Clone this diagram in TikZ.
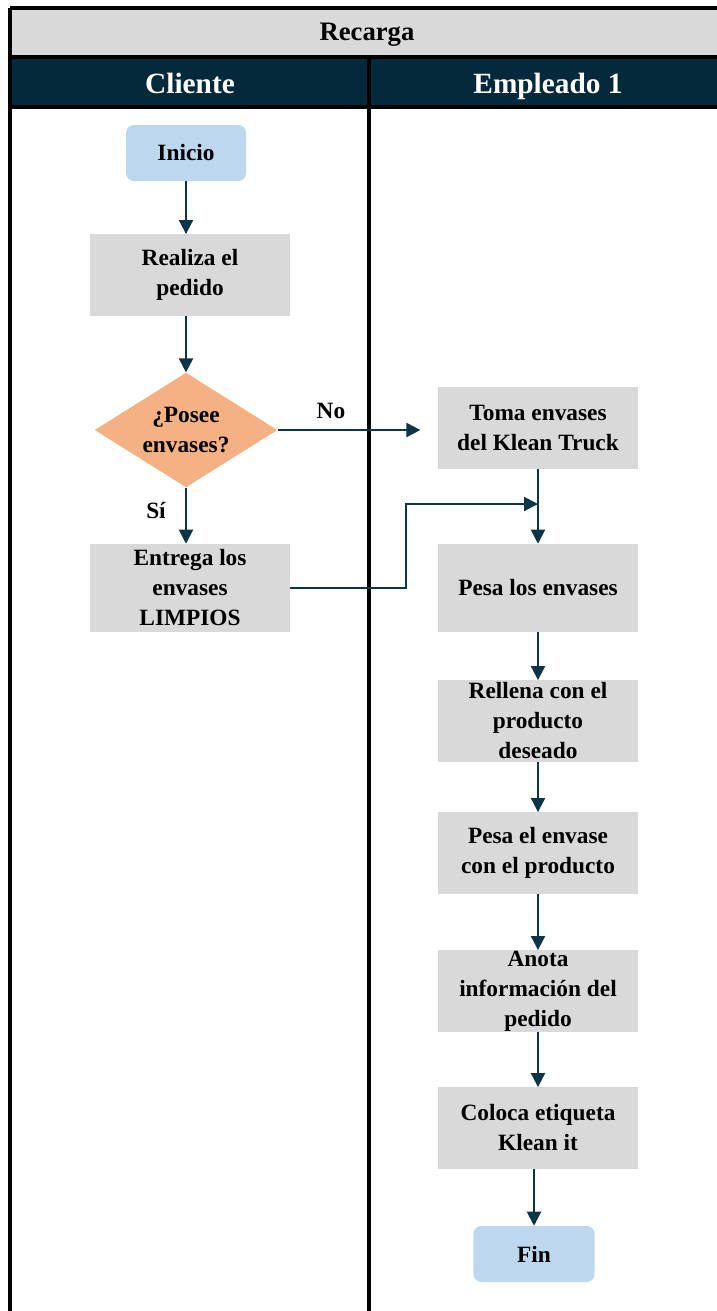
\documentclass[tikz,border=0pt]{standalone}
\usepackage{fontspec}
\setmainfont{Liberation Serif}
\usetikzlibrary{shapes.geometric,arrows.meta}
\definecolor{hdrdark}{HTML}{04293A}
\definecolor{titlegray}{HTML}{D9D9D9}
\definecolor{boxgray}{HTML}{D9D9D9}
\definecolor{termblue}{HTML}{BDD7EE}
\definecolor{decorange}{HTML}{F4B183}
\definecolor{flowline}{HTML}{0C3547}
\begin{document}
\begin{tikzpicture}[x=0.75pt,y=-0.75pt,
  txt/.style={font=\fontsize{17.5}{22.5}\selectfont\bfseries,align=center},
  stepbox/.style={txt,rectangle,fill=boxgray,minimum width=150pt,minimum height=61pt,inner sep=0pt},
  term/.style={txt,rectangle,rounded corners=6pt,fill=termblue,minimum width=90pt,minimum height=42pt,inner sep=0pt},
  decision/.style={txt,diamond,fill=decorange,shape aspect=1.6,minimum width=137pt,minimum height=86pt,inner sep=0pt},
  flow/.style={draw=flowline,line width=1.5pt,-{Triangle[length=10.5pt,width=10.5pt]}},
  grid/.style={draw=black,line width=2.4pt},
  lanehead/.style={font=\fontsize{22}{26}\selectfont\bfseries,text=white,anchor=base},
  lbl/.style={txt}]
\useasboundingbox (0,0) rectangle (717,1311);
% swimlane table
\fill[titlegray] (10,8) rectangle (717,57);
\fill[hdrdark] (10,57) rectangle (717,107);
\draw[grid] (10,8) -- (717,8);
\draw[grid] (10,57) -- (717,57);
\draw[grid] (10,107) -- (717,107);
\draw[grid] (10,8) -- (10,1311);
\draw[grid] (369,57) -- (369,1311);
\node[font=\fontsize{20}{24}\selectfont\bfseries,anchor=base] (title) at (367,40) {Recarga};
\node[lanehead] (lane1) at (190,93) {Cliente};
\node[lanehead] (lane2) at (548,93) {Empleado 1};
% flow nodes
\node[term] (inicio) at (186,153) {Inicio};
\node[stepbox] (realiza) at (190,275) {Realiza el\\pedido};
\node[decision] (posee) at (186,430) {¿Posee\\envases?};
\node[stepbox,minimum height=66pt] (entrega) at (190,588) {Entrega los\\envases\\LIMPIOS};
\node[stepbox] (toma) at (538,428) {Toma envases\\del Klean Truck};
\node[stepbox,minimum height=66pt] (pesa) at (538,588) {Pesa los envases};
\node[stepbox] (rellena) at (538,721) {Rellena con el\\producto\\deseado};
\node[stepbox] (pesaprod) at (538,853) {Pesa el envase\\con el producto};
\node[stepbox] (anota) at (538,991) {Anota\\información del\\pedido};
\node[stepbox] (coloca) at (538,1128) {Coloca etiqueta\\Klean it};
\node[term,minimum width=91pt] (fin) at (534,1254) {Fin};
% connectors
\draw[flow] (inicio.south) -- (inicio.south |- realiza.north);
\draw[flow] (realiza.south -| inicio.south) -- (posee.north);
\draw[flow] (posee.south) -- (posee.south |- entrega.north);
\draw[flow,shorten >=13pt] (posee.east) -- (posee.east -| toma.west);
\draw[flow] (toma.south) -- (pesa.north -| toma.south);
\coordinate (join) at (538,504);
\draw[flow] (entrega.east) -- ++(116,0) |- (join);
\draw[flow] (pesa.south) -- (rellena.north);
\draw[flow] (rellena.south) -- (pesaprod.north);
\draw[flow] (pesaprod.south) -- (anota.north);
\draw[flow] (anota.south) -- (coloca.north);
\draw[flow] (coloca.south -| fin.north) -- (fin.north);
% branch labels
\node[lbl] (si) at (156,510) {Sí};
\node[lbl] (no) at (331,411) {No};
\end{tikzpicture}
\end{document}
